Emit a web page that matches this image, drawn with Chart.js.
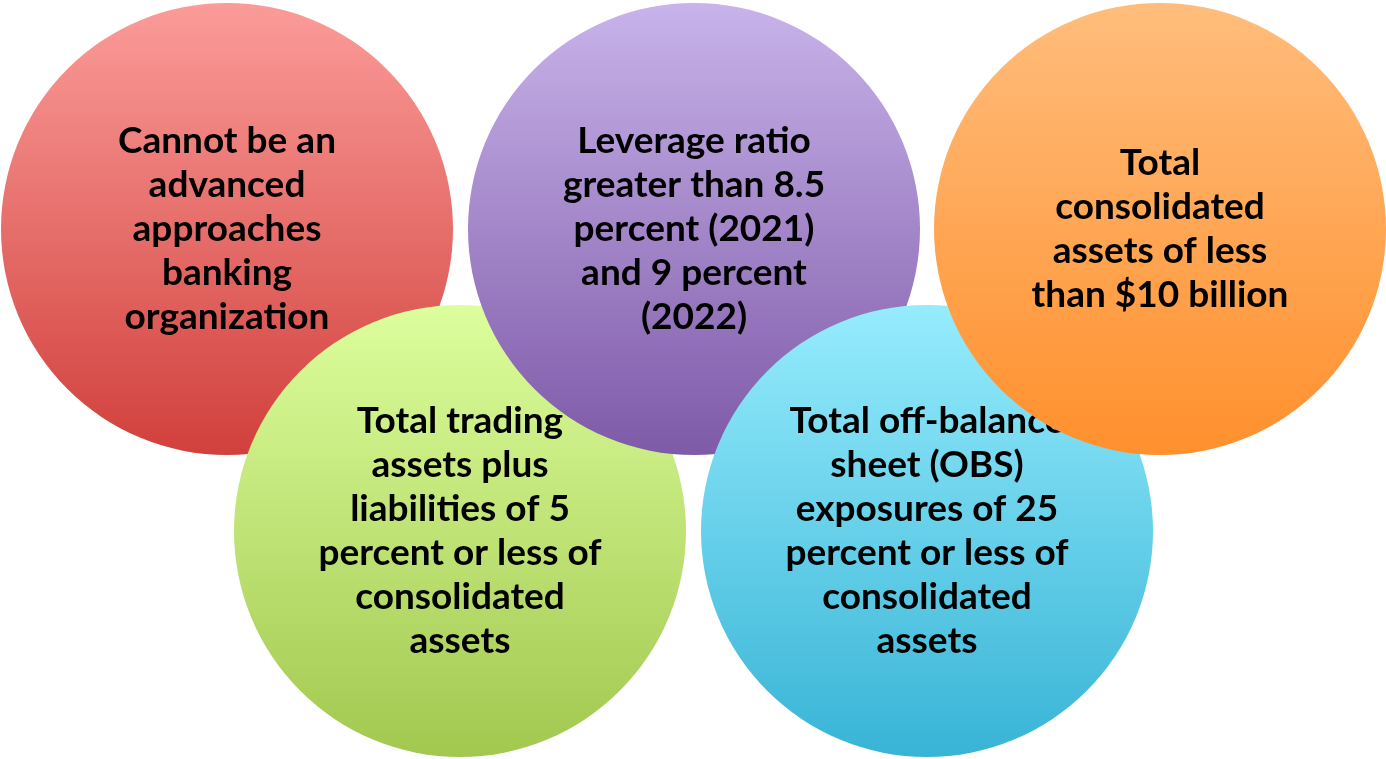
<!DOCTYPE html>
<html>
<head>
<meta charset="utf-8">
<script src="https://cdn.jsdelivr.net/npm/chart.js@4"></script>
<style>
  body { margin: 0; background: #fff; }
  #wrap { width: 1386px; height: 759px; position: relative; }
</style>
</head>
<body>
<div id="wrap"><canvas id="circles"></canvas></div>
<script>
// criteria circles (drawn bottom to top: red, green, purple, blue, orange)
var names = ['advanced', 'trading', 'leverage', 'obs', 'assets'];
var centerX = [227, 460, 694, 927, 1160];
var centerY = [229, 531, 229, 531, 229];
var radius = [226, 226, 226, 226, 226];
var texts = [
    ['Cannot be an', 'advanced', 'approaches', 'banking', 'organization'],
    ['Total trading', 'assets plus', 'liabilities of 5', 'percent or less of', 'consolidated', 'assets'],
    ['Leverage ratio', 'greater than 8.5', 'percent (2021)', 'and 9 percent', '(2022)'],
    ['Total off-balance', 'sheet (OBS)', 'exposures of 25', 'percent or less of', 'consolidated', 'assets'],
    ['Total', 'consolidated', 'assets of less', 'than $10 billion']
];
var topColors = ['#fb9c99', '#ddfe9d', '#c8b3ea', '#96ecfd', '#ffbd7c'];
var bottomColors = ['#d1403c', '#a2c84f', '#7e5aa8', '#38b4d6', '#ff902d'];

function gradientFor(i) {
    return function(c) {
        var chart = c.chart;
        if (!chart.chartArea) return topColors[i];
        var y = chart.scales.y.getPixelForValue(centerY[i]);
        var g = chart.ctx.createLinearGradient(0, y - radius[i], 0, y + radius[i]);
        g.addColorStop(0, topColors[i]);
        g.addColorStop(1, bottomColors[i]);
        return g;
    };
}

var datasets = names.map(function(n, i) {
    return {
        label: n,
        data: [{ x: centerX[i], y: centerY[i], r: radius[i] }],
        backgroundColor: gradientFor(i),
        borderWidth: 0,
        clip: false,
        order: names.length - 1 - i
    };
});

// write each circle's text right after it is drawn, so later circles cover it
var circleText = {
    id: 'circleText',
    afterDatasetDraw: function(chart, args) {
        var i = args.index;
        var el = args.meta.data[0];
        var ctx = chart.ctx;
        var lines = texts[i];
        var lh = 44;
        ctx.save();
        ctx.fillStyle = '#000';
        ctx.font = 'bold 37px Lato';
        ctx.textAlign = 'center';
        ctx.textBaseline = 'middle';
        lines.forEach(function(t, k) {
            ctx.fillText(t, el.x, el.y + (k - (lines.length - 1) / 2) * lh);
        });
        ctx.restore();
    }
};

new Chart(document.getElementById('circles'), {
    type: 'bubble',
    data: { datasets: datasets },
    options: {
        responsive: true,
        maintainAspectRatio: false,
        animation: false,
        events: [],
        layout: { padding: 0, autoPadding: false },
        plugins: { legend: { display: false }, tooltip: { enabled: false } },
        scales: {
            x: { display: false, min: 0, max: 1386 },
            y: { display: false, min: 0, max: 759, reverse: true }
        }
    },
    plugins: [circleText]
});
</script>
</body>
</html>
